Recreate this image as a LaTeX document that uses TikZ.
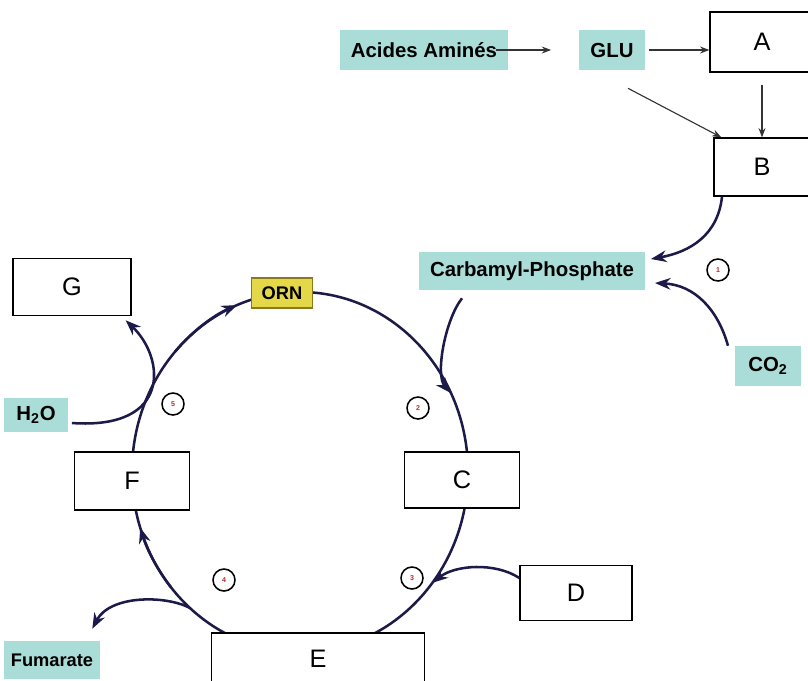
\documentclass[tikz,border=0pt]{standalone}
\usepackage{fontspec}
\setmainfont{Liberation Sans}
\usetikzlibrary{arrows.meta}
\definecolor{tealbox}{RGB}{170,221,216}
\definecolor{ornfill}{RGB}{228,216,72}
\definecolor{ornline}{RGB}{140,120,30}
\definecolor{ringcol}{RGB}{28,26,72}
\definecolor{numred}{RGB}{190,40,40}
\tikzset{
  molbox/.style={draw, fill=white, line width=0.9pt, inner sep=0pt, font=\fontsize{18}{20}\selectfont},
  tagbox/.style={fill=tealbox, inner sep=0pt, font=\bfseries\fontsize{14.5}{16}\selectfont},
  ornbox/.style={fill=ornfill, draw=ornline, line width=1.2pt, inner sep=0pt, font=\bfseries\fontsize{13}{15}\selectfont},
  ring/.style={ringcol, line width=1.8pt},
  thinarrow/.style={->, black!80, line width=0.8pt},
  stepnum/.style={circle, draw, fill=white, line width=1.1pt, minimum size=0.55cm, inner sep=0pt, text=numred, font=\bfseries\fontsize{5}{6}\selectfont},
}
\begin{document}
\begin{tikzpicture}[x=0.025cm, y=-0.025cm, >=Stealth]
  \useasboundingbox (0,0) rectangle (808,680);

  % Cycle
  \coordinate (mid) at (300,472);
  \draw[ring] (mid) ellipse [x radius=168, y radius=180];
  \draw[ring, ->] (mid) ++(222:168 and 180) arc[start angle=222, end angle=248, x radius=168, y radius=180];
  \draw[ring, ->] (mid) ++(140:168 and 180) arc[start angle=140, end angle=162, x radius=168, y radius=180];
  \path (mid) ++(334:168 and 180) coordinate (r2);
  \path (mid) ++(38:168 and 180) coordinate (r3);
  \path (mid) ++(131:168 and 180) coordinate (r4);

  % Boites
  \node[tagbox, minimum width=4.2cm, minimum height=1cm] (amines) at (424,50) {Acides Aminés};
  \node[tagbox, minimum width=1.63cm, minimum height=1cm] (glu) at (612,50) {GLU};
  \node[molbox, minimum width=2.6cm, minimum height=1.5cm] (A) at (762,42) {A};
  \node[molbox, minimum width=2.4cm, minimum height=1.45cm] (B) at (762,167) {B};
  \node[tagbox, minimum width=5.63cm, minimum height=0.95cm] (carb) at (532,271) {Carbamyl-Phosphate};
  \node[tagbox, minimum width=1.63cm, minimum height=1cm] (co2) at (768,366) {CO\textsubscript{2}};
  \node[ornbox, minimum width=1.53cm, minimum height=0.75cm] (orn) at (282,293) {ORN};
  \node[molbox, minimum width=2.95cm, minimum height=1.43cm] (G) at (72,287) {G};
  \node[tagbox, minimum width=1.58cm, minimum height=0.85cm] (h2o) at (36,415) {H\textsubscript{2}O};
  \node[molbox, minimum width=2.88cm, minimum height=1.45cm] (F) at (132,481) {F};
  \node[molbox, minimum width=2.88cm, minimum height=1.4cm] (C) at (462,480) {C};
  \node[molbox, minimum width=2.8cm, minimum height=1.38cm] (D) at (576,593) {D};
  \node[molbox, minimum width=5.33cm, minimum height=1.3cm] (E) at (318,659) {E};
  \node[tagbox, minimum width=2.4cm, minimum height=0.95cm, font=\bfseries\fontsize{13}{15}\selectfont] (fum) at (52,660) {Fumarate};

  % Etapes
  \node[stepnum] (n1) at (718,270) {1};
  \node[stepnum] (n2) at (418,408) {2};
  \node[stepnum] (n3) at (412,578) {3};
  \node[stepnum] (n4) at (224,580) {4};
  \node[stepnum] (n5) at (173,404) {5};

  % Fleches du haut
  \draw[thinarrow] ([xshift=-0.3cm]amines.east) -- ([xshift=-0.7cm]glu.west);
  \draw[thinarrow] ([xshift=0.1cm]glu.east) -- (glu.east -| A.west);
  \draw[thinarrow] ([yshift=-0.3cm]A.south) -- (B.north);
  \draw[thinarrow] ([xshift=0.4cm, yshift=-0.45cm]glu.south) -- ([xshift=0.2cm]B.north west);

  % Vers le carbamyl-phosphate
  \draw[ring, ->] ([xshift=-1cm]B.south) .. controls (718,235) and (690,252) .. ([xshift=0.15cm, yshift=0.3cm]carb.east);
  \draw[ring, ->] ([xshift=-1cm]co2.north) .. controls (718,310) and (695,285) .. ([xshift=0.25cm, yshift=-0.3cm]carb.east);

  % Entrees et sorties du cycle
  \draw[ring, ->] ([xshift=-1.75cm, yshift=-0.2cm]carb.south) .. controls (445,320) and (435,375) .. (r2);
  \draw[ring, ->] ([yshift=0.375cm]D.west) .. controls (495,562) and (455,565) .. (r3);
  \draw[ring, ->] (r4) .. controls (165,595) and (110,595) .. ([xshift=-0.2cm, yshift=0.3cm]fum.north east);
  \draw[ring, ->] ([xshift=0.1cm, yshift=-0.2cm]h2o.east) .. controls (172,430) and (165,358) .. ([xshift=-0.15cm, yshift=-0.1cm]G.south east);
\end{tikzpicture}
\end{document}
